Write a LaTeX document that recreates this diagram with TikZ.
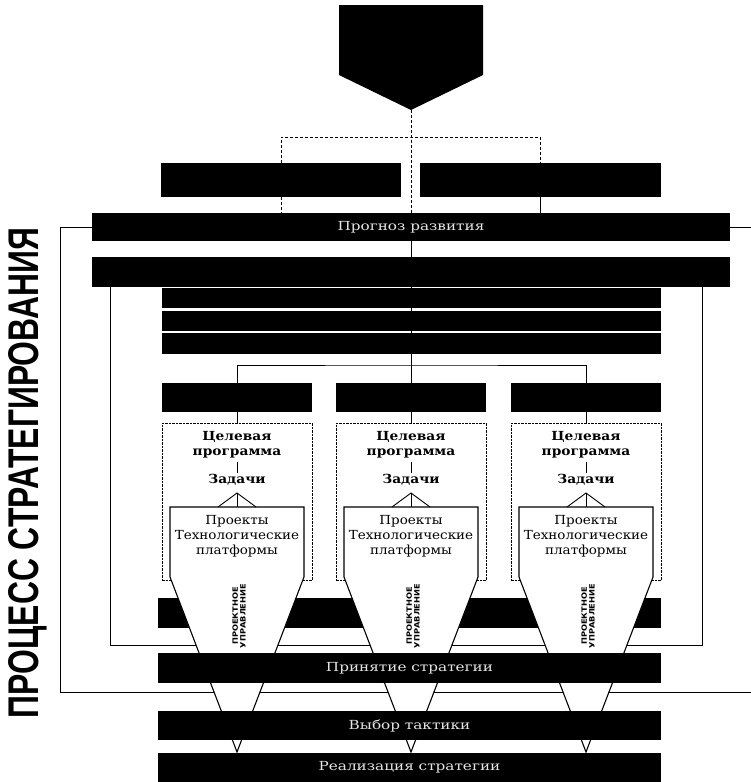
\documentclass[tikz,border=0pt]{standalone}
\usepackage{fontspec}
\setmainfont{DejaVu Serif}
\newfontfamily\titlefont{Liberation Sans}
\newfontfamily\labelfont{DejaVu Sans}
\newcommand\widetext[2][1.15]{\scalebox{#1}[1]{\begin{tabular}{@{}c@{}}#2\end{tabular}}}
\newcommand\bartxt[1]{\textcolor{white!90!black}{\scalebox{1.22}[1]{\fontsize{12.5}{14}\selectfont #1}}}
\begin{document}
\begin{tikzpicture}[x=1pt,y=-1pt,
  blk/.style={fill=black, draw=none, inner sep=0pt},
  link/.style={line width=0.9pt},
  dashlink/.style={line width=0.9pt, dash pattern=on 3pt off 2pt},
  obox/.style={draw, line width=0.8pt, dash pattern=on 2.5pt off 1pt,
    minimum width=150pt, minimum height=157pt, inner sep=0pt},
  funnel/.style={fill=white, draw=black, line width=1.1pt, line join=miter},
  head/.style={font=\bfseries\fontsize{12.5}{14.5}\selectfont, inner sep=0pt},
  proj/.style={font=\fontsize{12.5}{15}\selectfont, inner sep=0pt},
  pm/.style={rotate=90, inner sep=0pt}
]
\useasboundingbox (0,0) rectangle (751,782);

% vertical heading
\node[rotate=90, inner sep=0pt] (title) at (28,473)
  {\resizebox{490pt}{30pt}{\titlefont\bfseries ПРОЦЕСС СТРАТЕГИРОВАНИЯ}};

% top arrow-shaped block
\fill (339,5) -- (483,5) -- (483,75) -- (411,110) -- (339,75) -- cycle;
\coordinate (apex) at (411,110);

% upper bars
\node[blk, minimum width=240pt, minimum height=34pt] (tl) at (281,180) {};
\node[blk, minimum width=241pt, minimum height=34pt] (tr) at (540.5,180) {};
\node[blk, minimum width=638pt, minimum height=28pt] (prog) at (411,227)
  {\bartxt{Прогноз развития}};
\node[blk, minimum width=638pt, minimum height=30pt] (wide) at (411,272) {};

% connectors of the upper part
\coordinate (tj) at (411,137);
\draw[dashlink] (apex) -- (apex |- prog.north);
\draw[dashlink] (tl.north) |- (tj) -| (tr.north);
\draw[dashlink] (tl.south) -- (tl.south |- prog.north);
\draw[link] (tr.south) -- (tr.south |- prog.north);
\draw[link] (prog.south) -- (wide.north);

% outer frame
\coordinate (oL) at (60,692);
\coordinate (oR) at (751,692);
\coordinate (pR) at (751,227);
\draw[link] (prog.west) -| (oL) -- (oR);
\draw[link] (prog.east) -- (pR);

% inner frame
\coordinate (iL) at (110,645);
\coordinate (iR) at (702,645);
\draw[link] (wide.south -| iL) -- (iL) -- (iR) -- (wide.south -| iR);

% central line and branching to the three columns
\coordinate (cj) at (411,365);
\draw[link] (wide.south) -- (cj);

% narrow bars
\node[blk, minimum width=499pt, minimum height=20pt] (n1) at (411.5,298) {};
\node[blk, minimum width=499pt, minimum height=20pt] (n2) at (411.5,321) {};
\node[blk, minimum width=499pt, minimum height=21pt] (n3) at (411.5,343.5) {};

% bar crossed by the funnels
\node[blk, minimum width=503pt, minimum height=30pt] (b6) at (409.5,613) {};

\foreach \c/\i in {237/1, 411/2, 586/3} {
  \node[blk, minimum width=150pt, minimum height=29pt] (cb\i) at (\c,397.5) {};
  \node[obox] (ob\i) at (\c,501.5) {};
  \draw[link] (cb\i.south) -- (ob\i.north);
  % project box narrowing into a funnel
  \coordinate (pa\i) at (\c-67,507);
  \coordinate (pb\i) at (\c+67,507);
  \coordinate (pc\i) at (\c+67,577);
  \coordinate (pd\i) at (\c,752);
  \coordinate (pe\i) at (\c-67,577);
  \filldraw[funnel] (pa\i) -- (pb\i) -- (pc\i) -- (pd\i) -- (pe\i) -- cycle;
  \node[head] (tg\i) at (\c,445) {\widetext[1.1]{Целевая\\программа}};
  \node[head] (zd\i) at (\c,481) {\widetext[1.1]{Задачи}};
  \draw[link, shorten <=2pt, shorten >=1pt] (tg\i.south) -- (zd\i.north);
  \coordinate (fk\i) at (\c,493);
  \coordinate (fl\i) at (\c-19,507);
  \coordinate (fr\i) at (\c+19,507);
  \coordinate (fm\i) at (\c,507);
  \draw[link] (fl\i) -- (fk\i) -- (fr\i);
  \draw[link] (fk\i) -- (fm\i);
  \node[proj] (pj\i) at (\c,536) {\widetext[1.08]{Проекты\\Технологические\\платформы}};
  \node[pm] (pm\i) at (\c+2,616)
    {\resizebox{64pt}{13pt}{\labelfont\bfseries\shortstack{ПРОЕКТНОЕ\\УПРАВЛЕНИЕ}}};
}
\draw[link] (cb1.north) |- (cj) -| (cb3.north);
\draw[link] (cj) -- (cb2.north);

% lower bars
\node[blk, minimum width=503pt, minimum height=30pt] (prin) at (409.5,668)
  {\bartxt{Принятие стратегии}};
\node[blk, minimum width=503pt, minimum height=29pt] (vyb) at (409.5,725.5)
  {\bartxt{Выбор тактики}};
\node[blk, minimum width=503pt, minimum height=29pt] (real) at (409.5,767.5)
  {\bartxt{Реализация стратегии}};
\end{tikzpicture}
\end{document}
